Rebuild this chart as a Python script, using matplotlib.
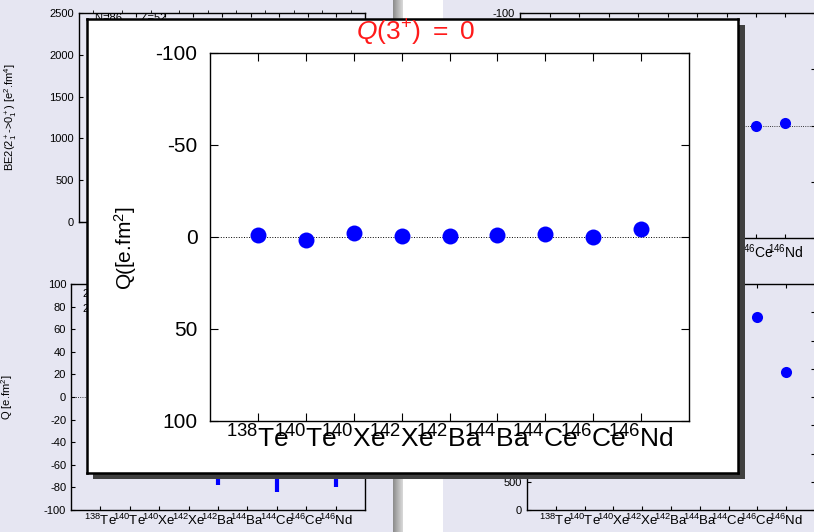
"""Recreate the popup-over-dashboard Q(3+) chart."""

import matplotlib

matplotlib.use("Agg")
import matplotlib.pyplot as plt
import numpy as np
from matplotlib.patches import Rectangle

# --- Data ---------------------------------------------------------------------
NUCLEI = ["138Te", "140Te", "140Xe", "142Xe", "142Ba", "144Ba", "144Ce", "146Ce", "146Nd"]
TICK_LABELS = [
    r"$^{138}$Te", r"$^{140}$Te", r"$^{140}$Xe", r"$^{142}$Xe", r"$^{142}$Ba",
    r"$^{144}$Ba", r"$^{144}$Ce", r"$^{146}$Ce", r"$^{146}$Nd",
]

# popup: Q(3+) values per nucleus [e.fm^2]
popup_q = [-1.2, 1.5, -2.2, -0.3, -0.3, -0.9, -1.6, 0.1, -4.3]

# background panels (only the parts not hidden by the popup)
rt_index = [7, 8]
rt_q = [0.0, -2.5]
rb_index = [7, 8]
rb_values = [3410, 2440]
bl_index = [4, 6, 8]
bl_low = [-78, -84, -80]

# --- Layout -------------------------------------------------------------------
W, H = 814, 532
LAVENDER = "#e6e6f2"
BLUE = "#0000ff"

plt.rcParams["font.family"] = ["Liberation Sans", "DejaVu Sans"]
plt.rcParams["mathtext.fontset"] = "custom"
plt.rcParams["mathtext.rm"] = "Liberation Sans"
plt.rcParams["mathtext.it"] = "Liberation Sans:italic"
plt.rcParams["axes.unicode_minus"] = False

fig = plt.figure(figsize=(W / 100, H / 100), dpi=100, facecolor=LAVENDER)


def px_axes(left, top, right, bottom, **kw):
    return fig.add_axes(
        [left / W, 1 - bottom / H, (right - left) / W, (bottom - top) / H], **kw
    )


def px_rect(left, top, right, bottom, **kw):
    fig.patches.append(
        Rectangle((left / W, 1 - bottom / H), (right - left) / W, (bottom - top) / H,
                  transform=fig.transFigure, figure=fig, **kw)
    )


# white gap and grey separator between the two columns
px_rect(403, 0, 443, H, facecolor="white", edgecolor="none", zorder=0)
sep = px_axes(393, 0, 403, H, zorder=0.5)
sep.imshow(np.linspace(0.55, 0.85, 20)[None, :], cmap="gray", vmin=0, vmax=1,
           aspect="auto", extent=(0, 1, 0, 1))
sep.axis("off")


def style_bg(ax, labelsize=8):
    ax.set_facecolor(LAVENDER)
    ax.tick_params(direction="in", labelsize=labelsize, length=3)
    ax.set_xlim(-1, 9)
    ax.set_xticks(range(9))
    for s in ax.spines.values():
        s.set_linewidth(1.0)


# top-left: BE2
tl = px_axes(79, 13, 365, 222)
style_bg(tl)
tl.set_ylim(0, 2500)
tl.set_yticks(np.arange(0, 2501, 500))
tl.set_xticks(np.arange(-0.5, 9, 0.5), minor=True)
tl.tick_params(axis="x", which="both", top=True, labelbottom=False)
tl.set_ylabel(r"BE2(2$^+_1$->0$^+_1$) [e$^2$.fm$^4$]", fontsize=8)
tl.yaxis.set_label_coords(-0.21, 0.5)
fig.text(95 / W, 1 - 13 / H, "N=86      Z=52", fontsize=8, va="top")

# bottom-left: Q(2+)
bl = px_axes(71, 284, 365, 510)
style_bg(bl)
bl.set_ylim(-100, 100)
bl.set_yticks(np.arange(-100, 101, 20))
bl.set_xticklabels(TICK_LABELS, fontsize=9.5)
bl.tick_params(axis="x", pad=2)
bl.axhline(0, color="black", lw=0.6, ls=":")
bl.vlines(bl_index, 0, bl_low, color=BLUE, lw=3)
bl.set_ylabel(r"Q [e.fm$^2$]", fontsize=8)
bl.yaxis.set_label_coords(-0.19, 0.5)
fig.text(82 / W, 1 - 288 / H, "2$^+_1$\n2$^+_2$", fontsize=7.5, va="top", linespacing=0.9)

# right-top: Q inverted
rt = px_axes(520, 13, 815, 238)
style_bg(rt)
rt.set_ylim(100, -100)
rt.set_yticks(np.arange(-100, 101, 50))
rt.tick_params(axis="y", right=True)
rt.tick_params(axis="x", top=True)
rt.set_xticklabels(TICK_LABELS, fontsize=10)
rt.axhline(0, color="black", lw=0.6, ls=":")
rt.plot(rt_index, rt_q, "o", color=BLUE, ms=8, mec="none")

# right-bottom: BE2 ratio
rb = px_axes(527, 284, 815, 510)
style_bg(rb)
rb.set_ylim(0, 4000)
rb.set_yticks(np.arange(0, 4001, 500))
rb.tick_params(axis="y", right=True)
rb.tick_params(axis="x", top=True)
rb.set_xticklabels(TICK_LABELS, fontsize=9.5)
rb.tick_params(axis="x", pad=2)
rb.plot(rb_index, rb_values, "o", color=BLUE, ms=8, mec="none")

# --- Popup --------------------------------------------------------------------
shadow = px_axes(93, 25, 745, 479, zorder=9)
shadow.set_facecolor("#404040")
shadow.set_xticks([])
shadow.set_yticks([])
for s in shadow.spines.values():
    s.set_visible(False)

box = px_axes(87, 19, 738, 473, zorder=10)
box.set_facecolor("white")
box.set_xticks([])
box.set_yticks([])
for s in box.spines.values():
    s.set_linewidth(1.8)

ax = px_axes(210, 53, 689, 421, zorder=11)
ax.set_facecolor("white")
ax.set_xlim(-1, 9)
ax.set_ylim(100, -100)
ax.set_yticks(np.arange(-100, 101, 50))
ax.set_xticks(range(9))
ax.set_xticklabels(TICK_LABELS)
ax.tick_params(direction="in", length=6, top=True, right=True)
ax.tick_params(axis="y", labelsize=15, pad=9)
ax.tick_params(axis="x", labelsize=19, pad=3)
for s in ax.spines.values():
    s.set_linewidth(1.0)
ax.axhline(0, color="black", lw=0.7, ls=":")
ax.plot(range(len(popup_q)), popup_q, "o", color=BLUE, ms=11.5, mec="none", zorder=5)

# y label with a stray "(" over it, as in the reference
fig.text(125 / W, 1 - 290 / H, r"Q [e.fm$^2$]", fontsize=15, rotation=90,
         ha="center", va="bottom", zorder=12)
fig.text(125 / W, 1 - 273 / H, "(", fontsize=15, rotation=90,
         ha="center", va="bottom", zorder=12)
fig.text(415 / W, 1 - 33 / H, r"$Q(3^{+})\ =\ 0$", fontsize=19, color="#ff1a1a",
         ha="center", va="center", zorder=12)

fig.savefig("out.png", dpi=100, facecolor=fig.get_facecolor())
